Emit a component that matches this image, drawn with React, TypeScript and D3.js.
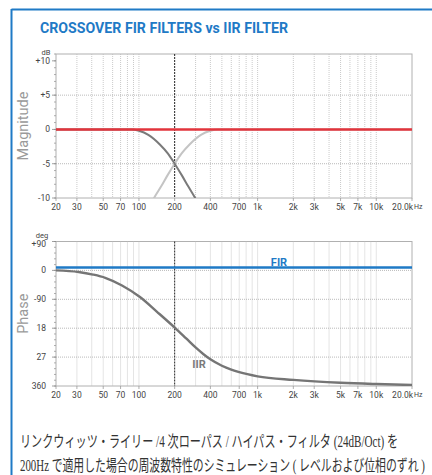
import React, { useLayoutEffect, useRef, useState } from "react";
import * as d3 from "d3";

const freqTicks = [20, 30, 50, 70, 100, 200, 400, 700, 1000, 2000, 3000, 5000, 7000, 10000, 20000];
const freqTickLabels = ["20", "30", "50", "70", "100", "200", "400", "700", "1k", "2k", "3k", "5k", "7k", "10k", "20.0k"];
const gridFreqs = [30, 40, 50, 60, 70, 80, 90, 100, 300, 400, 500, 600, 700, 800, 900, 1000, 2000, 3000, 4000, 5000, 6000, 7000, 8000, 9000, 10000];
const crossoverFreq = 200;

const magTicks = [10, 5, 0, -5, -10];
const magTickLabels = ["+10", "+5", "0", "-5", "-10"];
const magGrid = [5, 0, -5];

const phaseTicks = [90, 0, -90, -180, -270, -360];
const phaseTickLabels = ["+90", "0", "-90", "18", "27", "360"];
const phaseGrid = [0, -90, -180, -270];

// Magnitude (dB)
const firFreq = [20, 20000];
const firMag = [0, 0];
const lowFreq = [20, 87, 100, 120, 150, 175, 200, 230, 260, 300, 320];
const lowMag = [0, 0, -0.2, -0.8, -2.2, -3.5, -5, -6.7, -8.3, -10.1, -11];
const highFreq = [125, 133, 154, 174, 200, 229, 267, 333, 400, 460, 20000];
const highMag = [-11, -10.1, -8.3, -6.7, -5, -3.5, -2.2, -0.8, -0.2, 0, 0];

// Phase (deg)
const firPhase = [9, 9];
const iirFreq = [20, 31, 41, 52, 72, 102, 142, 200, 250, 300, 350, 400, 500, 600, 700, 1000, 2000, 5000, 10000, 20000];
const iirPhase = [0, -5, -13, -23, -47, -83, -129, -178, -212, -240, -261, -277, -297, -309, -317, -330, -341, -350, -354, -357];

const captionLines = [
  "リンクウィッツ・ライリー /4 次ローパス / ハイパス・フィルタ (24dB/Oct) を",
  "200Hz で適用した場合の周波数特性のシミュレーション ( レベルおよび位相のずれ )",
];

const W = 432;
const H = 475;
const left = 56;
const right = 412;

const x = d3.scaleLog().domain([20, 20000]).range([left, right]);
const yMag = d3.scaleLinear().domain([-10, 11]).range([198, 54]);
const yPh = d3.scaleLinear().domain([-360, 90]).range([386, 241.5]);

const blue = "#1f7ac6";
const axisFont = "Roboto, 'DejaVu Sans', sans-serif";
const captionFont = "'Liberation Serif', 'Noto Sans CJK JP', serif";

function FitText({ x0, y0, width, children, ...rest }: any) {
  const ref = useRef<SVGTextElement>(null);
  const [sx, setSx] = useState(0.78);
  useLayoutEffect(() => {
    if (ref.current) {
      const w = ref.current.getComputedTextLength();
      if (w > 0) setSx(width / w);
    }
  }, [width]);
  return (
    <g transform={`translate(${x0},${y0}) scale(${sx},1)`}>
      <text ref={ref} x={0} y={0} {...rest}>
        {children}
      </text>
    </g>
  );
}

function Plot({ y, ticks, tickLabels, grid, minorStep, unit, unitY, labelRight, title, clipId, children }: any) {
  const [d0, d1] = y.domain();
  const top = y(d1);
  const bottom = y(d0);
  const minor: number[] = [];
  for (let v = Math.ceil(d0 / minorStep) * minorStep; v <= d1 + 1e-9; v += minorStep) minor.push(v);
  return (
    <g>
      <defs>
        <clipPath id={clipId}>
          <rect x={left} y={top} width={right - left} height={bottom - top} />
        </clipPath>
      </defs>
      <rect x={left} y={top} width={right - left} height={bottom - top} fill="#fff" stroke="#b0b0b0" strokeWidth={1} />
      {gridFreqs.map((f) => (
        <line key={"vg" + f} x1={x(f)} x2={x(f)} y1={top} y2={bottom} stroke="#bdbdbd" strokeWidth={0.8} strokeDasharray="1,1" />
      ))}
      {grid.map((v: number) => (
        <line key={"hg" + v} x1={left} x2={right} y1={y(v)} y2={y(v)} stroke="#a8a8a8" strokeWidth={0.8} strokeDasharray="1,1" />
      ))}
      <line x1={x(crossoverFreq)} x2={x(crossoverFreq)} y1={top} y2={bottom} stroke="#222" strokeWidth={1} strokeDasharray="2,1" />
      {minor.map((v) => (
        <line key={"mt" + v} x1={left - 2} x2={left} y1={y(v)} y2={y(v)} stroke="#999" strokeWidth={0.8} />
      ))}
      {ticks.map((v: number) => (
        <line key={"t" + v} x1={left - 4} x2={left} y1={y(v)} y2={y(v)} stroke="#888" strokeWidth={0.8} />
      ))}
      {freqTicks.map((f) => (
        <line key={"xt" + f} x1={x(f)} x2={x(f)} y1={bottom} y2={bottom + 3} stroke="#999" strokeWidth={0.8} />
      ))}
      <g clipPath={`url(#${clipId})`}>{children}</g>
      {ticks.map((v: number, i: number) => (
        <text
          key={"tl" + v}
          x={labelRight}
          y={Math.max(y(v), top + 2.5)}
          dy="0.35em"
          textAnchor="end"
          fontFamily={axisFont}
          fontSize={8.5}
          fill="#444"
        >
          {tickLabels[i]}
        </text>
      ))}
      <text x={labelRight - 4} y={unitY} dy="0.35em" textAnchor="middle" fontFamily={axisFont} fontSize={7.5} fill="#444">
        {unit}
      </text>
      {freqTicks.map((f, i) =>
        i === freqTicks.length - 1 ? (
          <text key={"xl" + f} x={x(f) + 1} y={bottom + 9} dy="0.35em" textAnchor="end" fontFamily={axisFont} fontSize={8.5} fill="#444">
            {freqTickLabels[i]}
          </text>
        ) : (
          <text key={"xl" + f} x={x(f)} y={bottom + 9} dy="0.35em" textAnchor="middle" fontFamily={axisFont} fontSize={8.5} fill="#444">
            {freqTickLabels[i]}
          </text>
        )
      )}
      <text x={right + 2} y={bottom + 9} dy="0.35em" textAnchor="start" fontFamily={axisFont} fontSize={7} fill="#444">
        Hz
      </text>
      <text
        transform={`translate(28,${(top + bottom) / 2}) rotate(-90)`}
        textAnchor="middle"
        fontFamily={axisFont}
        fontSize={14.5}
        fill="#9a9a9a"
      >
        {title}
      </text>
    </g>
  );
}

export default function App() {
  const magLine = (fs: number[], vs: number[]) =>
    d3
      .line<number>()
      .x((_, i) => x(fs[i]))
      .y((v) => yMag(v))
      .curve(d3.curveMonotoneX)(vs) || "";
  const phLine = (fs: number[], vs: number[]) =>
    d3
      .line<number>()
      .x((_, i) => x(fs[i]))
      .y((v) => yPh(v))
      .curve(d3.curveMonotoneX)(vs) || "";

  return (
    <svg width={W} height={H} style={{ display: "block", position: "absolute", left: 0, top: 0 }} xmlns="http://www.w3.org/2000/svg">
      <rect x={0} y={0} width={W} height={H} fill="#fff" />
      <line x1={11.5} x2={W} y1={9.5} y2={9.5} stroke={blue} strokeWidth={2} />
      <line x1={11.5} x2={11.5} y1={9} y2={H} stroke={blue} strokeWidth={2} />
      <text x={40} y={33} fontFamily={axisFont} fontWeight="bold" fontSize={14} fill={blue} textLength={248} lengthAdjust="spacingAndGlyphs">
        CROSSOVER FIR FILTERS vs IIR FILTER
      </text>

      <Plot y={yMag} ticks={magTicks} tickLabels={magTickLabels} grid={magGrid} minorStep={1} unit="dB" unitY={52.3} labelRight={50} title="Magnitude" clipId="clipMag">
        <path d={magLine(highFreq, highMag)} fill="none" stroke="#c4c4c4" strokeWidth={2} />
        <path d={magLine(lowFreq, lowMag)} fill="none" stroke="#7a7a7a" strokeWidth={2} />
        <path d={magLine(firFreq, firMag)} fill="none" stroke="#e2343c" strokeWidth={2.6} />
      </Plot>

      <Plot y={yPh} ticks={phaseTicks} tickLabels={phaseTickLabels} grid={phaseGrid} minorStep={18} unit="deg" unitY={235.5} labelRight={46} title="Phase" clipId="clipPh">
        <path d={phLine(iirFreq, iirPhase)} fill="none" stroke="#757575" strokeWidth={2.4} />
        <path d={phLine(firFreq, firPhase)} fill="none" stroke={blue} strokeWidth={2.4} />
      </Plot>

      <text x={279} y={262} dy="0.35em" textAnchor="middle" fontFamily={axisFont} fontWeight="bold" fontSize={11} fill={blue}>
        FIR
      </text>
      <text x={199} y={364} dy="0.35em" textAnchor="middle" fontFamily={axisFont} fontWeight="bold" fontSize={11} fill="#7a7a7a">
        IIR
      </text>

      <FitText x0={20} y0={447} width={378} fontFamily={captionFont} fontSize={16} fill="#333">
        {captionLines[0]}
      </FitText>
      <FitText x0={20} y0={471} width={405} fontFamily={captionFont} fontSize={16} fill="#333">
        {captionLines[1]}
      </FitText>
    </svg>
  );
}
